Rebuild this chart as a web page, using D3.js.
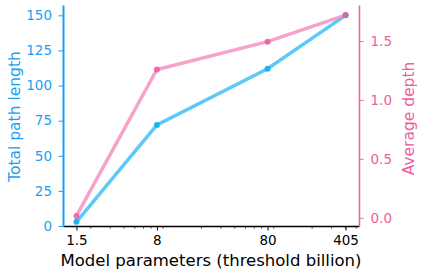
<!DOCTYPE html>
<html>
<head>
<meta charset="utf-8">
<script src="https://cdn.jsdelivr.net/npm/d3@7"></script>
<style>
body { margin: 0; background: #fff; }
text { font-family: "DejaVu Sans", sans-serif; }
</style>
</head>
<body>
<div class="chart"></div>
<script>
var params = [1.5, 8, 80, 405];
var tickLabels = ['1.5', '8', '80', '405'];
var pathLength = [3, 72, 112, 150];
var avgDepth = [0.015, 1.258, 1.494, 1.72];
var leftTicks = [0, 25, 50, 75, 100, 125, 150];
var rightTicks = [0.0, 0.5, 1.0, 1.5];

var margin = { top: 5, right: 63, bottom: 50, left: 63 };
var width = 422 - margin.left - margin.right;
var height = 276 - margin.top - margin.bottom;

var blue = '#1a9ff2', pink = '#ec5fa0';

var svg = d3.select('.chart')
    .append('svg')
    .attr('width', 422)
    .attr('height', 276)
    .append('g')
    .attr('transform', `translate(${margin.left}, ${margin.top})`);

// log x with matplotlib-ish 5% margin in log space
var lo = Math.log10(1.5), hi = Math.log10(405), pad = (hi - lo) * 0.05;
var xScale = d3.scaleLog()
    .domain([Math.pow(10, lo - pad), Math.pow(10, hi + pad)])
    .range([0, width]);

var yLeft = d3.scaleLinear()
    .domain([0, 150 + 0.05 * 147])
    .range([height, 0]);

var dmin = 0.015, dmax = 1.72, dp = (dmax - dmin) * 0.05;
var yRight = d3.scaleLinear()
    .domain([dmin - dp, dmax + dp])
    .range([height, 0]);

// minor ticks 2..9 per decade
var minor = [];
[1, 10, 100].forEach(function (p) {
    for (var k = 2; k <= 9; k++) {
        var v = k * p;
        if (v >= xScale.domain()[0] && v <= xScale.domain()[1] && params.indexOf(v) < 0) minor.push(v);
    }
});

var xMinor = d3.axisBottom(xScale).tickValues(minor).tickSize(2.5).tickFormat('');
svg.append('g')
    .attr('transform', 'translate(0,' + height + ')')
    .call(xMinor)
    .call(g => g.select('.domain').remove())
    .call(g => g.selectAll('line').attr('stroke', '#000').attr('stroke-width', 0.8));

var xAxis = d3.axisBottom(xScale)
    .tickValues(params)
    .tickFormat((d, i) => tickLabels[i])
    .tickSize(4.5)
    .tickPadding(5)
    .tickSizeOuter(0);
svg.append('g')
    .attr('transform', 'translate(0,' + height + ')')
    .call(xAxis)
    .call(g => g.select('.domain').attr('stroke', '#000').attr('stroke-width', 1.5))
    .call(g => g.selectAll('line').attr('stroke', '#000').attr('stroke-width', 1))
    .call(g => g.selectAll('text').attr('fill', '#000').style('font-size', '13.5px'));

var leftAxis = d3.axisLeft(yLeft).tickValues(leftTicks).tickSize(4.5).tickPadding(6.5).tickSizeOuter(0);
svg.append('g')
    .call(leftAxis)
    .call(g => g.select('.domain').attr('stroke', blue).attr('stroke-width', 2))
    .call(g => g.selectAll('line').attr('stroke', blue).attr('stroke-width', 1))
    .call(g => g.selectAll('text').attr('fill', blue).style('font-size', '13.5px'));

var rightAxis = d3.axisRight(yRight).tickValues(rightTicks).tickFormat(d3.format('.1f'))
    .tickSize(4.5).tickPadding(7).tickSizeOuter(0);
svg.append('g')
    .attr('transform', 'translate(' + width + ',0)')
    .call(rightAxis)
    .call(g => g.select('.domain').attr('stroke', pink).attr('stroke-width', 1.5))
    .call(g => g.selectAll('line').attr('stroke', pink).attr('stroke-width', 1))
    .call(g => g.selectAll('text').attr('fill', pink).style('font-size', '13.5px'));

// series
var lineL = d3.line().x((d, i) => xScale(params[i])).y(d => yLeft(d));
var lineR = d3.line().x((d, i) => xScale(params[i])).y(d => yRight(d));

svg.append('path').datum(pathLength).attr('d', lineL)
    .attr('fill', 'none').attr('stroke', '#33bbf7').attr('stroke-opacity', 0.8).attr('stroke-width', 3.5);
svg.selectAll('.pl').data(pathLength).enter().append('circle')
    .attr('cx', (d, i) => xScale(params[i])).attr('cy', d => yLeft(d)).attr('r', 3)
    .attr('fill', '#22b0f5');

svg.append('path').datum(avgDepth).attr('d', lineR)
    .attr('fill', 'none').attr('stroke', '#f48bbd').attr('stroke-opacity', 0.8).attr('stroke-width', 3.5);
svg.selectAll('.ad').data(avgDepth).enter().append('circle')
    .attr('cx', (d, i) => xScale(params[i])).attr('cy', d => yRight(d)).attr('r', 3)
    .attr('fill', '#e85c9f').attr('fill-opacity', 0.85);

// labels
svg.append('text')
    .attr('x', width / 2).attr('y', height + 40)
    .attr('text-anchor', 'middle').style('font-size', '16.5px').attr('fill', '#000')
    .text('Model parameters (threshold billion)');

svg.append('text')
    .attr('transform', `translate(${-43}, ${height / 2 + 1}) rotate(-90)`)
    .attr('text-anchor', 'middle').style('font-size', '15.5px').attr('fill', blue)
    .text('Total path length');

svg.append('text')
    .attr('transform', `translate(${width + 55}, ${height / 2 + 3}) rotate(-90)`)
    .attr('text-anchor', 'middle').style('font-size', '15.5px').attr('fill', pink)
    .text('Average depth');
</script>
</body>
</html>
